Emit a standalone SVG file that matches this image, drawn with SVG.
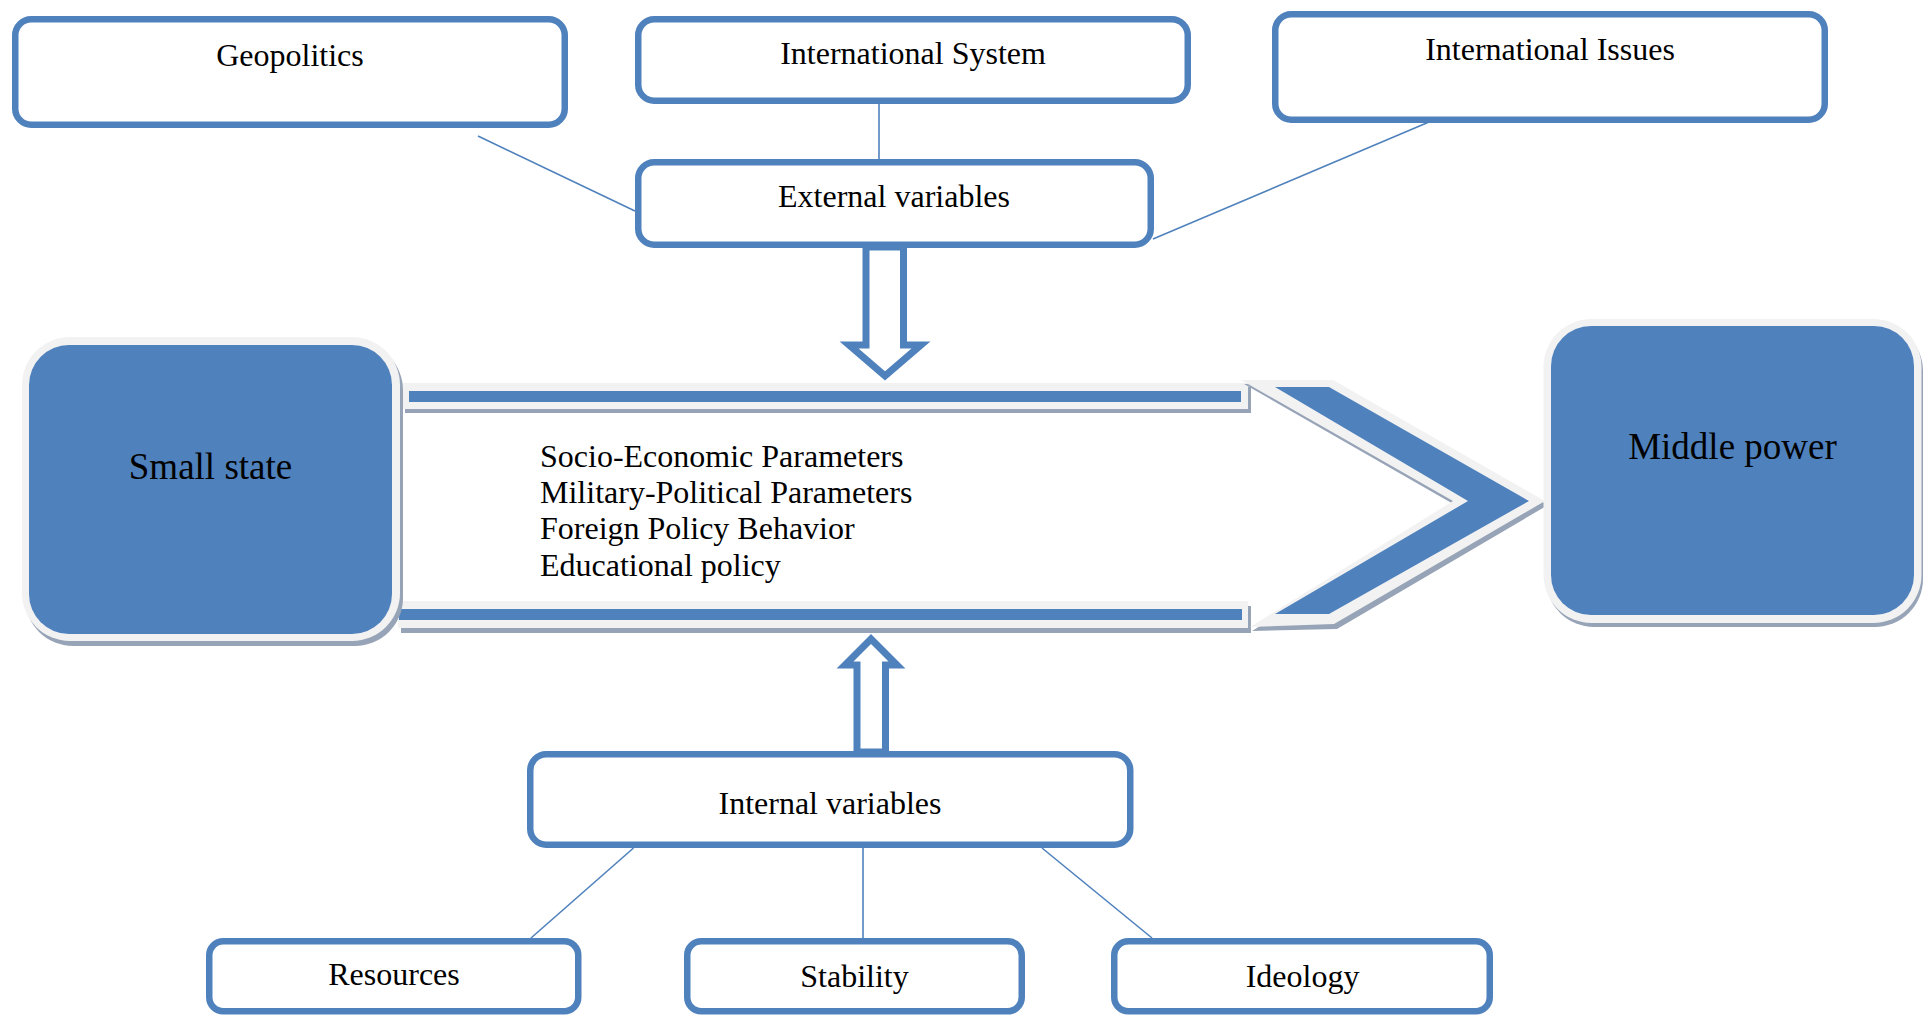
<svg xmlns="http://www.w3.org/2000/svg" width="1923" height="1016" viewBox="0 0 1923 1016">
<style>
.box{fill:#ffffff;stroke:#4f81bd;stroke-width:6.5}
.lbl{font-family:"Liberation Serif","Times New Roman",serif;font-size:32px;fill:#000;text-anchor:middle}
.big{font-family:"Liberation Serif","Times New Roman",serif;font-size:37px;fill:#000;text-anchor:middle}
.lst{font-family:"Liberation Serif","Times New Roman",serif;font-size:32px;fill:#000}
.ln{stroke:#4f81bd;stroke-width:1.6;fill:none}
.blk{fill:#ffffff;stroke:#4f81bd;stroke-width:7;stroke-linejoin:miter}
.shd{fill:#97a4b7}
.lg{fill:#f2f2f2}
.bl{fill:#4f81bd}
</style>
<rect width="1923" height="1016" fill="#ffffff"/>

<g id="connectors">
<line class="ln" x1="478" y1="136" x2="635" y2="211"/>
<line class="ln" x1="879" y1="104" x2="879" y2="159"/>
<line class="ln" x1="1429" y1="122" x2="1153" y2="239"/>
<line class="ln" x1="633.5" y1="848" x2="531" y2="938"/>
<line class="ln" x1="863" y1="848" x2="863" y2="938"/>
<line class="ln" x1="1042" y1="848" x2="1152" y2="938"/>
<polygon id="down-arrow" class="blk" points="866,247 866,345 849,345 885,376 921,345 903.5,345 903.5,247"/>
<polygon id="up-arrow" class="blk" points="857,752 857,665 845,665 871,639 897,665 885.5,665 885.5,752"/>
</g>

<g id="big-arrow">
<rect class="shd" x="405" y="387" width="846" height="26"/>
<rect class="lg" x="402" y="383" width="846" height="26"/>
<rect class="bl" x="409" y="391" width="832" height="11"/>
<rect class="shd" x="401" y="606" width="850" height="27"/>
<rect class="lg" x="398" y="601" width="850" height="27"/>
<rect class="bl" x="399" y="609" width="843" height="11"/>
<polygon class="shd" points="1244,384 1335,384 1548,505 1337,629 1252,631 1455,505"/>
<polygon class="lg" points="1241,380 1333,380 1545,501 1334,624 1250,627 1453,501"/>
<polygon class="bl" points="1275,387 1329,387 1529,501 1329,614 1275,614 1468,501"/>
<text class="lst" x="540" y="467">Socio-Economic Parameters</text>
<text class="lst" x="540" y="503">Military-Political Parameters</text>
<text class="lst" x="540" y="539">Foreign Policy Behavior</text>
<text class="lst" x="540" y="576">Educational policy</text>
</g>

<g id="small-state">
<rect class="shd" x="25" y="342" width="378" height="304" rx="48"/>
<rect class="lg" x="22" y="337" width="378" height="304" rx="48"/>
<rect class="bl" x="29" y="345" width="363" height="289" rx="40"/>
<text class="big" x="210.5" y="479">Small state</text>
</g>

<g id="middle-power">
<rect class="shd" x="1546" y="323" width="377" height="304" rx="48"/>
<rect class="lg" x="1543.5" y="319" width="378" height="304" rx="48"/>
<rect class="bl" x="1551" y="326" width="363" height="289" rx="40"/>
<text class="big" x="1732.5" y="459">Middle power</text>
</g>

<g id="geopolitics">
<rect class="box" x="15.25" y="19.25" width="549.5" height="105.5" rx="16"/>
<text class="lbl" x="290" y="66">Geopolitics</text>
</g>
<g id="international-system">
<rect class="box" x="638.25" y="19.25" width="549.5" height="81.5" rx="16"/>
<text class="lbl" x="913" y="64">International System</text>
</g>
<g id="international-issues">
<rect class="box" x="1275.25" y="14.25" width="549.5" height="105.5" rx="16"/>
<text class="lbl" x="1550" y="60">International Issues</text>
</g>
<g id="external-variables">
<rect class="box" x="638.25" y="162.25" width="512.5" height="82.5" rx="16"/>
<text class="lbl" x="894" y="207">External variables</text>
</g>
<g id="internal-variables">
<rect class="box" x="530.25" y="754.25" width="600" height="90.5" rx="16"/>
<text class="lbl" x="830" y="814">Internal variables</text>
</g>
<g id="resources">
<rect class="box" x="209.25" y="941.25" width="369" height="70" rx="14"/>
<text class="lbl" x="394" y="985">Resources</text>
</g>
<g id="stability">
<rect class="box" x="687.25" y="941.25" width="334.5" height="70" rx="14"/>
<text class="lbl" x="854.5" y="987">Stability</text>
</g>
<g id="ideology">
<rect class="box" x="1114.25" y="941.25" width="375.5" height="70" rx="14"/>
<text class="lbl" x="1302.5" y="987">Ideology</text>
</g>
</svg>
